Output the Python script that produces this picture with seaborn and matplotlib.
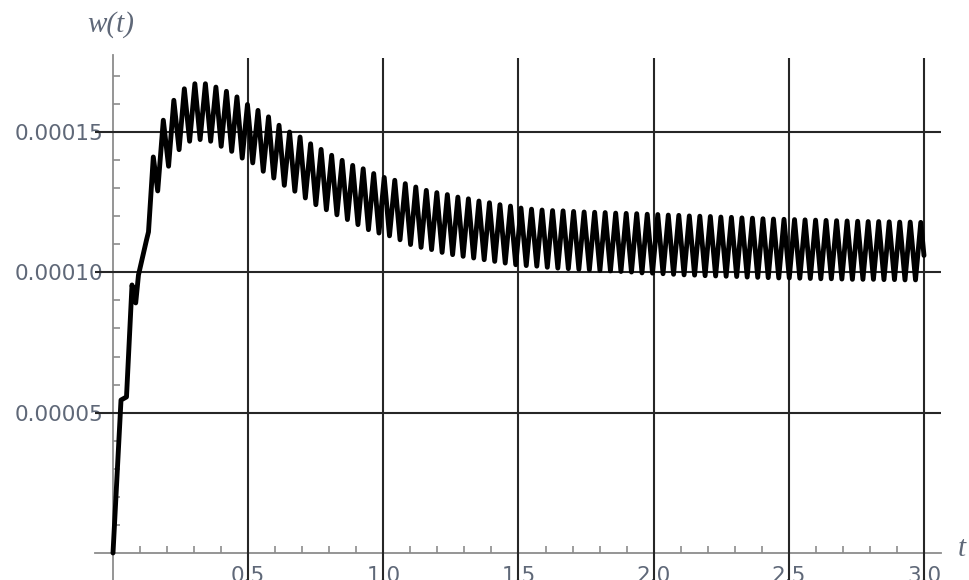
import numpy as np
import pandas as pd
import matplotlib
matplotlib.use('Agg')
import matplotlib.pyplot as plt
import seaborn as sns

# w(t), values in units of 1e-4
# first rise before the steady oscillation starts
rise_t = [0.0, 0.0296, 0.0499, 0.0703, 0.0840, 0.0943, 0.1239, 0.1313, 0.1491, 0.1654]
rise_w = [0.0, 0.545, 0.556, 0.955, 0.891, 0.991, 1.115, 1.144, 1.411, 1.290]

# oscillation maxima
peak_t = [0.1861, 0.2250, 0.2639, 0.3028, 0.3418, 0.3807, 0.4196, 0.4585, 0.4974, 0.5363,
          0.5753, 0.6142, 0.6531, 0.6920, 0.7309, 0.7698, 0.8088, 0.8477, 0.8866, 0.9255,
          0.9644, 1.0033, 1.0423, 1.0812, 1.1201, 1.1590, 1.1979, 1.2368, 1.2757, 1.3147,
          1.3536, 1.3925, 1.4314, 1.4703, 1.5092, 1.5482, 1.5871, 1.6260, 1.6649, 1.7038,
          1.7427, 1.7817, 1.8206, 1.8595, 1.8984, 1.9373, 1.9762, 2.0152, 2.0541, 2.0930,
          2.1319, 2.1708, 2.2097, 2.2486, 2.2876, 2.3265, 2.3654, 2.4043, 2.4432, 2.4821,
          2.5211, 2.5600, 2.5989, 2.6378, 2.6767, 2.7156, 2.7546, 2.7935, 2.8324, 2.8713,
          2.9102, 2.9491, 2.9881]
peak_w = [1.542, 1.613, 1.654, 1.672, 1.672, 1.660, 1.645, 1.625, 1.598, 1.577,
          1.554, 1.524, 1.500, 1.482, 1.458, 1.438, 1.417, 1.399, 1.381, 1.369,
          1.352, 1.338, 1.328, 1.316, 1.304, 1.292, 1.284, 1.277, 1.268, 1.262,
          1.254, 1.248, 1.241, 1.236, 1.229, 1.225, 1.222, 1.220, 1.219, 1.217,
          1.215, 1.214, 1.213, 1.211, 1.210, 1.209, 1.207, 1.206, 1.204, 1.203,
          1.201, 1.200, 1.199, 1.197, 1.196, 1.194, 1.193, 1.191, 1.190, 1.189,
          1.188, 1.187, 1.186, 1.185, 1.184, 1.183, 1.182, 1.181, 1.181, 1.180,
          1.179, 1.179, 1.178]

# oscillation minima
trough_t = [0.2056, 0.2445, 0.2834, 0.3223, 0.3613, 0.4002, 0.4391, 0.4780, 0.5169, 0.5558,
            0.5948, 0.6337, 0.6726, 0.7115, 0.7504, 0.7893, 0.8283, 0.8672, 0.9061, 0.9450,
            0.9839, 1.0228, 1.0618, 1.1007, 1.1396, 1.1785, 1.2174, 1.2563, 1.2952, 1.3342,
            1.3731, 1.4120, 1.4509, 1.4898, 1.5287, 1.5677, 1.6066, 1.6455, 1.6844, 1.7233,
            1.7622, 1.8012, 1.8401, 1.8790, 1.9179, 1.9568, 1.9957, 2.0347, 2.0736, 2.1125,
            2.1514, 2.1903, 2.2292, 2.2681, 2.3071, 2.3460, 2.3849, 2.4238, 2.4627, 2.5016,
            2.5406, 2.5795, 2.6184, 2.6573, 2.6962, 2.7351, 2.7741, 2.8130, 2.8519, 2.8908,
            2.9297, 2.9686]
trough_w = [1.378, 1.437, 1.467, 1.473, 1.467, 1.449, 1.431, 1.407, 1.390, 1.360,
            1.336, 1.310, 1.289, 1.265, 1.241, 1.223, 1.205, 1.188, 1.170, 1.152,
            1.140, 1.130, 1.116, 1.099, 1.089, 1.081, 1.071, 1.063, 1.057, 1.051,
            1.045, 1.039, 1.033, 1.027, 1.024, 1.022, 1.018, 1.015, 1.013, 1.011,
            1.009, 1.007, 1.005, 1.003, 1.001, 0.998, 0.997, 0.995, 0.993, 0.991,
            0.990, 0.988, 0.987, 0.986, 0.985, 0.983, 0.982, 0.981, 0.980, 0.980,
            0.979, 0.978, 0.977, 0.977, 0.976, 0.975, 0.975, 0.975, 0.974, 0.974,
            0.973, 0.973]

end_t = [3.0]
end_w = [1.06]

x_ticks = [0.5, 1.0, 1.5, 2.0, 2.5, 3.0]
y_ticks = [0.00005, 0.00010, 0.00015]

# put maxima and minima in time order
osc_t, osc_w = [], []
for i in range(len(peak_t)):
    osc_t.append(peak_t[i]); osc_w.append(peak_w[i])
    if i < len(trough_t):
        osc_t.append(trough_t[i]); osc_w.append(trough_w[i])

df = pd.DataFrame({'t': rise_t + osc_t + end_t,
                   'w': np.array(rise_w + osc_w + end_w) * 1e-4})

sns.set_style('white')
plt.rcParams['font.family'] = ['DejaVu Sans']

fig = plt.figure(figsize=(9.69, 5.8), dpi=100)
ax = fig.add_axes([0, 0, 1, 1])

# pixel mapping of the reference: t=0 at x=113, 270.33 px per unit; w=0 at y=553, 280.67 px per 1e-4
px_t = 1 / 270.33
px_w = 1e-4 / 280.67
ax.set_xlim(-113 * px_t, 856 * px_t)
ax.set_ylim(-27 * px_w, 553 * px_w)

grid_col = '#262626'
ax.vlines(x_ticks, -27 * px_w, 495 * px_w, colors=grid_col, lw=1.5, zorder=3)
ax.hlines(y_ticks, -18 * px_t, 828 * px_t, colors=grid_col, lw=1.5, zorder=3)

sns.lineplot(data=df, x='t', y='w', ax=ax, color='black', lw=3.5,
             sort=False, estimator=None, zorder=4)
for ln in ax.get_lines():
    ln.set_solid_joinstyle('round')

axis_col = '#8c8c8c'
for s in ['top', 'right']:
    ax.spines[s].set_visible(False)
ax.spines['left'].set_position(('data', 0))
ax.spines['bottom'].set_position(('data', 0))
ax.spines['left'].set_bounds(-27 * px_w, 498 * px_w)
ax.spines['bottom'].set_bounds(-18 * px_t, 828 * px_t)
for s in ['left', 'bottom']:
    ax.spines[s].set_color(axis_col)
    ax.spines[s].set_linewidth(1.3)

ax.set_xticks(x_ticks)
ax.set_xticklabels([f'{v:.1f}' for v in x_ticks])
ax.set_xticks([v / 10 for v in range(1, 31) if v % 5 != 0], minor=True)
ax.set_yticks(y_ticks)
ax.set_yticklabels([f'{v:.5f}' for v in y_ticks])
ax.set_yticks([v * 1e-5 for v in range(1, 18) if v % 5 != 0], minor=True)

lab_col = '#5f6878'
ax.tick_params(which='both', direction='in', color=axis_col, width=1.2,
               bottom=True, left=True, labelsize=15.5, labelcolor=lab_col)
ax.tick_params(which='major', length=8)
ax.tick_params(which='minor', length=5)
ax.tick_params(axis='x', pad=9)
ax.tick_params(axis='y', pad=7)
ax.set_xlabel('')
ax.set_ylabel('')

fig.text(111 / 969, 1 - 25 / 580, 'w(t)', ha='center', va='center', fontsize=21,
         style='italic', family=['Liberation Serif', 'DejaVu Serif'], color=lab_col)
fig.text(962 / 969, 1 - 549 / 580, 't', ha='center', va='center', fontsize=21,
         style='italic', family=['Liberation Serif', 'DejaVu Serif'], color=lab_col)

fig.savefig('out.png', dpi=100)
